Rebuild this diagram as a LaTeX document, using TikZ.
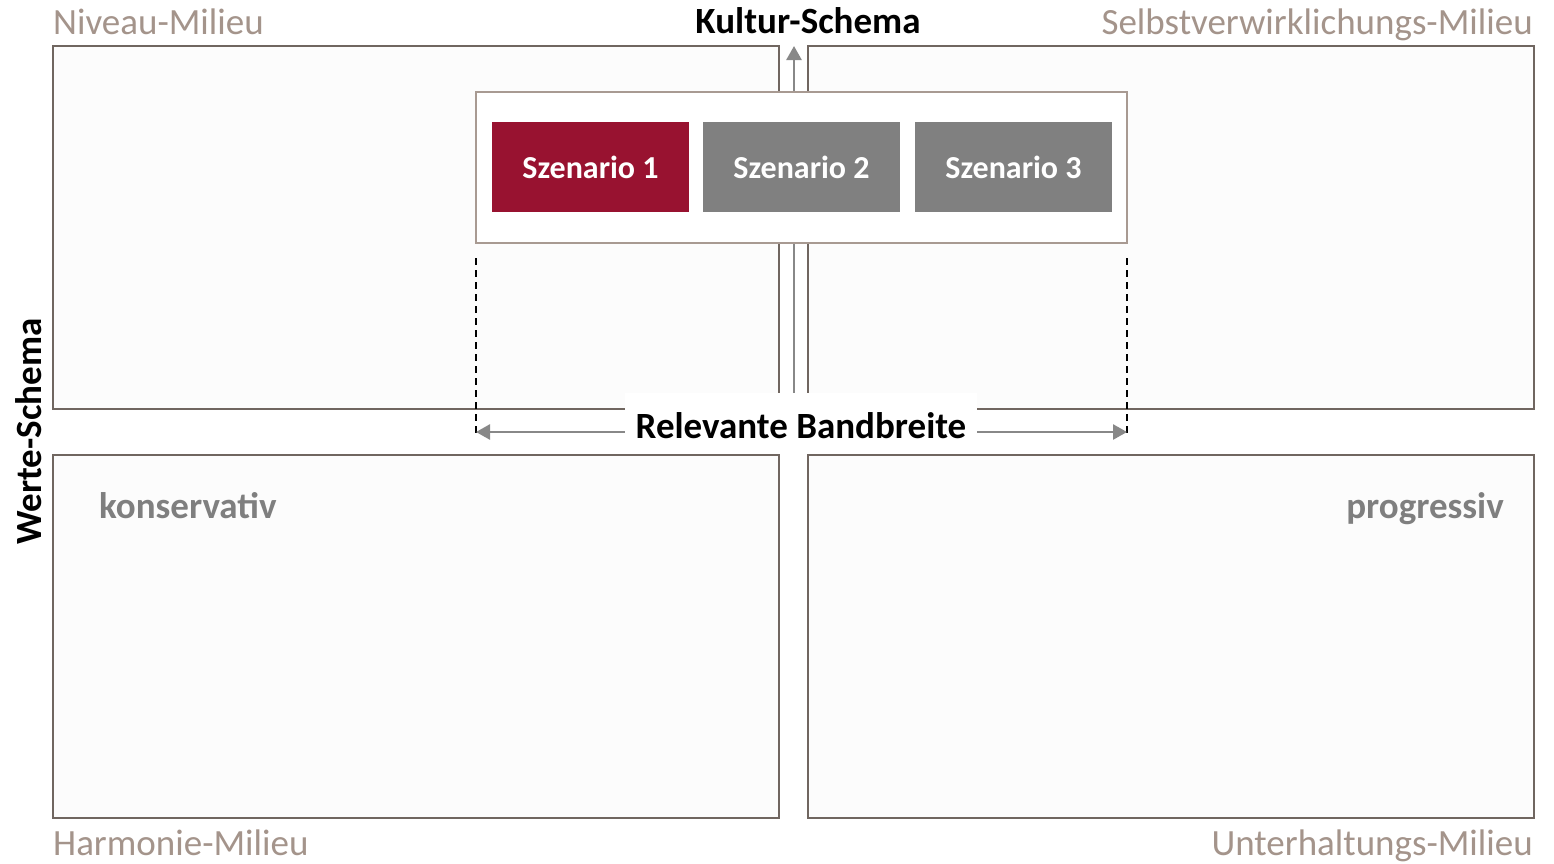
\documentclass[tikz,border=0pt]{standalone}
\usepackage{fontspec}
\setmainfont{Carlito}
\usetikzlibrary{arrows.meta}
\definecolor{frame}{RGB}{112,102,96}
\definecolor{milieu}{RGB}{164,148,139}
\definecolor{scenred}{RGB}{152,18,48}
\definecolor{scengray}{RGB}{128,128,128}
\definecolor{panel}{RGB}{252,252,252}
\definecolor{axisgray}{RGB}{136,136,136}
\definecolor{holder}{RGB}{168,154,146}
\definecolor{poltext}{RGB}{127,127,127}
\begin{document}
\begin{tikzpicture}[x=1pt,y=-1pt,
  quad/.style={draw=frame,fill=panel,line width=2.4pt,inner sep=0pt,outer sep=0pt,
    minimum width=726pt,minimum height=363pt,anchor=north west},
  milieulbl/.style={text=milieu,font=\fontsize{37}{37}\selectfont,inner sep=0pt},
  axislbl/.style={text=black,font=\bfseries\fontsize{37}{37}\selectfont,inner sep=0pt},
  pollbl/.style={text=poltext,font=\bfseries\fontsize{37}{37}\selectfont,inner sep=0pt},
  scen/.style={text=white,font=\bfseries\fontsize{32}{32}\selectfont,inner sep=0pt,outer sep=0pt,
    minimum width=197pt,minimum height=90pt,anchor=north west},
  axisarrow/.style={draw=axisgray,line width=2.6pt,-{Triangle[length=14pt,width=15pt]}},
  rangeline/.style={draw=black,line width=1.8pt,dash pattern=on 7pt off 5pt}
]
\useasboundingbox (0,0) rectangle (1554,863);
\fill[white] (0,0) rectangle (1554,863);

% four milieu quadrants
\node[quad] (nw) at (53,46) {};
\node[quad] (ne) at (808,46) {};
\node[quad] (sw) at (53,455) {};
\node[quad] (se) at (808,455) {};

% milieu names
\node[milieulbl,anchor=base west] (niveau) at (53,34) {Niveau-Milieu};
\node[milieulbl,anchor=base east] (selbst) at (1533,34) {Selbstverwirklichungs-Milieu};
\node[milieulbl,anchor=base west] (harmonie) at (53,855) {Harmonie-Milieu};
\node[milieulbl,anchor=base east] (unterh) at (1533,855) {Unterhaltungs-Milieu};

% vertical culture axis
\coordinate (kbase) at (794,393);
\coordinate (ktip) at (794,46);
\draw[axisarrow] (kbase) -- (ktip);
\node[axislbl,anchor=base] (kultur) at (808,33) {Kultur-Schema};

% value axis label
\node[axislbl,rotate=90,anchor=base] (werte) at (41,431.5) {Werte-Schema};

% scenario holder with three scenarios
\node[draw=holder,fill=white,line width=2.2pt,inner sep=0pt,outer sep=0pt,
  minimum width=651pt,minimum height=151pt,anchor=north west] (holder) at (476,92) {};
\node[scen,fill=scenred] (s1) at (492,122) {Szenario 1};
\node[scen,fill=scengray] (s2) at (703,122) {Szenario 2};
\node[scen,fill=scengray] (s3) at (915,122) {Szenario 3};

% relevant range
\coordinate (dl1) at (476,258);
\coordinate (dl2) at (476,437);
\coordinate (dr1) at (1127,258);
\coordinate (dr2) at (1127,437);
\draw[rangeline] (dl1) -- (dl2);
\draw[rangeline] (dr1) -- (dr2);
\node[fill=white,inner sep=0pt,minimum width=352pt,minimum height=61pt] (band) at (801,423.5) {};
\node[axislbl,anchor=base] (bandtxt) at (801,438) {Relevante Bandbreite};
\coordinate (al) at (476,432);
\coordinate (ar) at (1127,432);
\draw[axisarrow] (band.west |- al) -- (al);
\draw[axisarrow] (band.east |- ar) -- (ar);

% value poles
\node[pollbl,anchor=base west] (kons) at (99,518) {konservativ};
\node[pollbl,anchor=base east] (prog) at (1504,518) {progressiv};
\end{tikzpicture}
\end{document}
